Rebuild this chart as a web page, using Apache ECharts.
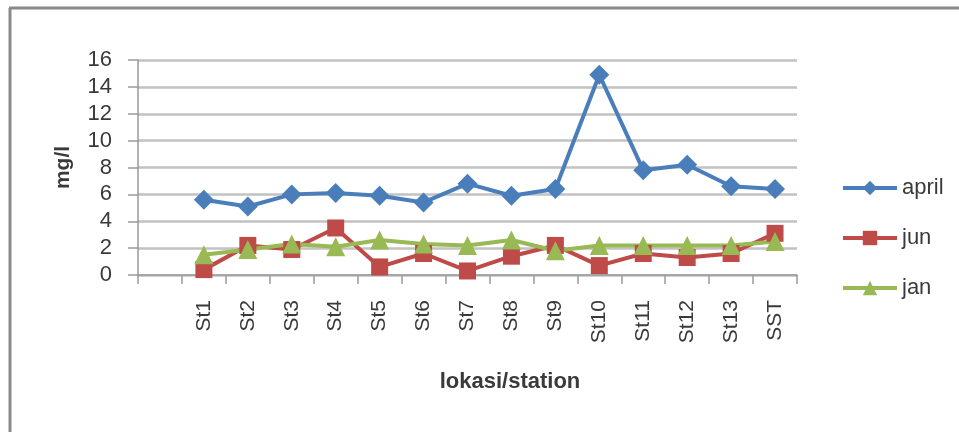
<!DOCTYPE html>
<html>
<head>
<meta charset="utf-8">
<script src="https://cdn.jsdelivr.net/npm/echarts@6/dist/echarts.min.js"></script>
<style>
  html, body { margin: 0; padding: 0; background: #fff; }
  #chart { width: 959px; height: 432px; }
</style>
</head>
<body>
<div id="chart"></div>
<script>
// Stations along the x axis (first slot left blank, as on the sheet)
const stations = ['', 'St1', 'St2', 'St3', 'St4', 'St5', 'St6', 'St7', 'St8', 'St9', 'St10', 'St11', 'St12', 'St13', 'SST'];

// Measured concentration, mg/l
const april = [null, 5.6, 5.1, 6.0, 6.1, 5.9, 5.4, 6.8, 5.9, 6.4, 14.9, 7.8, 8.2, 6.6, 6.4];
const jun   = [null, 0.4, 2.2, 1.9, 3.5, 0.6, 1.6, 0.3, 1.4, 2.2, 0.7, 1.6, 1.3, 1.6, 3.1];
const jan   = [null, 1.5, 1.9, 2.3, 2.1, 2.6, 2.3, 2.2, 2.6, 1.8, 2.2, 2.2, 2.2, 2.2, 2.5];

const yTicks = { min: 0, max: 16, interval: 2 };

const FONT = '"Liberation Sans", Arial, sans-serif';
const TEXT = '#3a3a3a';

const chart = echarts.init(document.getElementById('chart'), null, { renderer: 'canvas' });

function lineSeries(name, data, color, symbol, size) {
  return {
    name, type: 'line', data,
    symbol, symbolSize: size,
    showAllSymbol: true,
    connectNulls: false,
    lineStyle: { color, width: 4 },
    itemStyle: { color },
    emphasis: { disabled: true },
    animation: false
  };
}

chart.setOption({
  backgroundColor: '#ffffff',
  textStyle: { fontFamily: FONT },
  grid: { left: 138, top: 60, right: 162, bottom: 157, containLabel: false },
  legend: {
    orient: 'vertical',
    left: 836,
    top: 171,
    itemWidth: 54,
    itemHeight: 18,
    itemGap: 26,
    lineStyle: { width: 4 },
    textStyle: { fontFamily: FONT, fontSize: 22, color: TEXT, lineHeight: 24 },
    data: ['april', 'jun', 'jan']
  },
  xAxis: {
    type: 'category',
    data: stations,
    boundaryGap: true,
    axisLine: { lineStyle: { color: '#9a9a9a', width: 1.5 } },
    axisTick: { show: true, length: 9, interval: 0, lineStyle: { color: '#9a9a9a', width: 1.5 } },
    axisLabel: { rotate: 90, interval: 0, margin: 25, fontFamily: FONT, fontSize: 21, color: TEXT },
    splitLine: { show: false }
  },
  yAxis: {
    type: 'value',
    min: yTicks.min, max: yTicks.max, interval: yTicks.interval,
    name: 'mg/l',
    nameLocation: 'middle',
    nameRotate: 90,
    nameGap: 64,
    nameTextStyle: { fontFamily: FONT, fontSize: 21, fontWeight: 'bold', color: TEXT },
    axisLine: { show: true, lineStyle: { color: '#9a9a9a', width: 1.5 } },
    axisTick: { show: true, length: 10, lineStyle: { color: '#9a9a9a', width: 1.5 } },
    axisLabel: { margin: 26, fontFamily: FONT, fontSize: 22, color: TEXT },
    splitLine: { lineStyle: { color: '#c2c2c2', width: 2.5 } }
  },
  graphic: [
    { type: 'line', shape: { x1: 10, y1: 8, x2: 10, y2: 432 }, style: { stroke: '#8a8a8a', lineWidth: 3 } },
    { type: 'line', shape: { x1: 9, y1: 8, x2: 959, y2: 8 }, style: { stroke: '#8a8a8a', lineWidth: 3 } },
    {
      type: 'text', x: 510, y: 382,
      style: {
        text: 'lokasi/station', fontFamily: FONT, fontSize: 22, fontWeight: 'bold',
        fill: TEXT, textAlign: 'center', textVerticalAlign: 'middle'
      }
    }
  ],
  series: [
    lineSeries('april', april, '#4a7ebb', 'diamond', 20),
    lineSeries('jun', jun, '#be4b48', 'rect', 17),
    lineSeries('jan', jan, '#98b954', 'triangle', 19)
  ]
});
</script>
</body>
</html>
